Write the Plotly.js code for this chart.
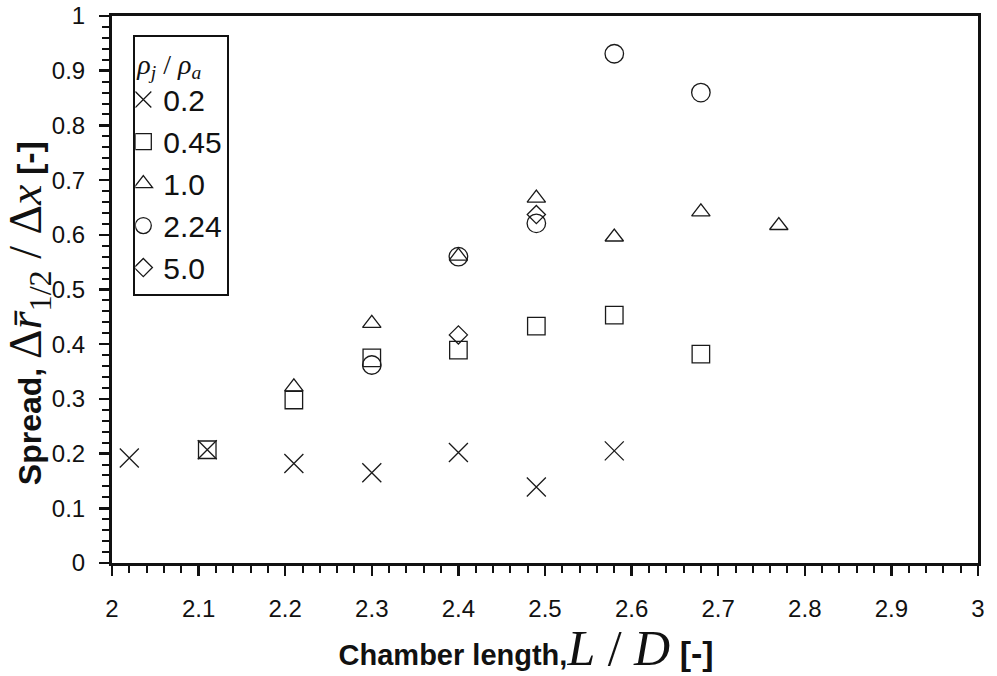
<!DOCTYPE html>
<html>
<head>
<meta charset="utf-8">
<script src="https://cdn.plot.ly/plotly-3.0.1.min.js"></script>
<style>html,body{margin:0;padding:0;background:#fff;}#chart{width:997px;height:676px;}</style>
</head>
<body>
<div id="chart"></div>
<script>
// Series names (density ratio rho_j / rho_a)
const seriesNames = ["0.2", "0.45", "1.0", "2.24", "5.0"];

// rho = 0.2
const x_02 = [2.02, 2.11, 2.21, 2.30, 2.40, 2.49, 2.58];
const y_02 = [0.192, 0.207, 0.182, 0.165, 0.202, 0.139, 0.205];

// rho = 0.45
const x_045 = [2.11, 2.21, 2.30, 2.40, 2.49, 2.58, 2.68];
const y_045 = [0.207, 0.298, 0.375, 0.389, 0.433, 0.453, 0.382];

// rho = 1.0
const x_10 = [2.21, 2.30, 2.40, 2.49, 2.58, 2.68, 2.77];
const y_10 = [0.322, 0.438, 0.561, 0.667, 0.596, 0.642, 0.617];

// rho = 2.24
const x_224 = [2.30, 2.40, 2.49, 2.58, 2.68];
const y_224 = [0.362, 0.560, 0.621, 0.931, 0.860];

// rho = 5.0
const x_50 = [2.40, 2.49];
const y_50 = [0.417, 0.637];

const xs = [x_02, x_045, x_10, x_224, x_50];
const ys = [y_02, y_045, y_10, y_224, y_50];
const symbols = ["x-thin-open", "square-open", "triangle-up-open", "circle-open", "diamond-open"];
const sizes = [19, 17.5, 16, 18.5, 14];

const traces = seriesNames.map((name, i) => ({
  type: "scatter",
  mode: "markers",
  name: name,
  x: xs[i],
  y: ys[i],
  marker: {
    symbol: symbols[i],
    size: sizes[i],
    color: "#1a1a1a",
    line: {color: "#1a1a1a", width: 1.3}
  },
  cliponaxis: false
}));

const serif = "Liberation Serif, DejaVu Serif, serif";
const sans = "Liberation Sans, Arial, sans-serif";
const mathStyle = (sz) => "font-family:Liberation Serif;font-weight:normal;font-size:" + sz + "px";
const nb = "\u00a0";

const layout = {
  width: 997,
  height: 676,
  paper_bgcolor: "#ffffff",
  plot_bgcolor: "#ffffff",
  margin: {l: 112, r: 19, t: 16, b: 113},
  showlegend: true,
  legend: {
    x: 0.0246, y: 0.965, xanchor: "left", yanchor: "top",
    bgcolor: "#ffffff",
    bordercolor: "#111111",
    borderwidth: 2,
    indentation: -12,
    font: {family: sans, size: 30, color: "#111111"},
    title: {text: "<i>ρ<sub>j</sub></i>" + nb + "/" + nb + "<i>ρ<sub>a</sub></i>", font: {family: serif, size: 28, color: "#111111"}},
    traceorder: "normal",
    itemsizing: "trace"
  },
  xaxis: {
    range: [2, 3],
    tick0: 2, dtick: 0.1,
    ticks: "outside", ticklen: 10, tickwidth: 2.5, tickcolor: "#111111",
    minor: {dtick: 0.02, ticks: "outside", ticklen: 7, tickwidth: 2, tickcolor: "#111111", showgrid: false},
    showline: true, linewidth: 3, linecolor: "#111111", mirror: true,
    showgrid: false, zeroline: false,
    tickfont: {family: sans, size: 24, color: "#111111"},
    ticklabelstandoff: 12,
    title: {
      text: "<b>Chamber length,</b><span style=\"" + mathStyle(50) + "\"><i>L</i>" + nb + "/" + nb + "<i>D</i></span><b><span style=\"font-size:34px\">" + nb + "[-]" + nb + nb + nb + nb + "</span></b>",
      font: {family: sans, size: 29, color: "#111111"},
      standoff: 8
    }
  },
  yaxis: {
    range: [0, 1],
    tick0: 0, dtick: 0.1,
    ticks: "outside", ticklen: 10, tickwidth: 2.5, tickcolor: "#111111",
    minor: {dtick: 0.02, ticks: "outside", ticklen: 7, tickwidth: 2, tickcolor: "#111111", showgrid: false},
    showline: true, linewidth: 3, linecolor: "#111111", mirror: true,
    showgrid: false, zeroline: false,
    tickfont: {family: sans, size: 24, color: "#111111"},
    ticklabelstandoff: 9,
    title: {
      text: "<b>Spread, </b><span style=\"" + mathStyle(46) + "\">Δ<i>r̄</i><sub>1/2</sub>" + nb + "/" + nb + "Δ<i>x</i></span><b><span style=\"font-size:34px\">" + nb + "[-]" + nb + nb + nb + nb + nb + "</span></b>",
      font: {family: sans, size: 32, color: "#111111"},
      standoff: 2
    }
  }
};

Plotly.newPlot("chart", traces, layout, {displayModeBar: false, staticPlot: true});
</script>
</body>
</html>
